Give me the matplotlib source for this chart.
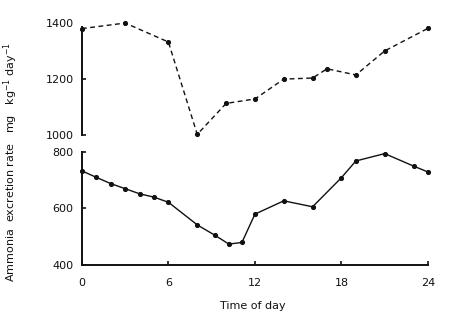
import matplotlib
matplotlib.use("Agg")
import matplotlib.pyplot as plt

# Night/day ammonia excretion, two series on a broken y axis
upper_hours = [0, 3, 6, 8, 10, 12, 14, 16, 17, 19, 21, 24]
upper_rate = [1381, 1401, 1333, 1002, 1113, 1129, 1200, 1204, 1237, 1215, 1301, 1382]

lower_hours = [0, 1, 2, 3, 4, 5, 6, 8, 9.2, 10.2, 11.1, 12, 14, 16, 18, 19, 21, 23, 24]
lower_rate = [733, 710, 688, 670, 652, 640, 622, 542, 506, 474, 480, 580, 627, 606,
              709, 768, 794, 750, 729]

x_ticks = [0, 6, 12, 18, 24]
upper_ticks = [1000, 1200, 1400]
lower_ticks = [400, 600, 800]

plt.rcParams['font.family'] = ['DejaVu Sans']

fig = plt.figure(figsize=(4.5, 3.26), dpi=100)
ax_top = fig.add_axes([0.182, 0.586, 0.769, 0.3425])
ax_bot = fig.add_axes([0.182, 0.187, 0.769, 0.347])

ink = '#111111'

ax_top.plot(upper_hours, upper_rate, color=ink, lw=1.0, linestyle=(0, (3.5, 2.5)),
            marker='o', markersize=2.7, clip_on=False)
ax_bot.plot(lower_hours, lower_rate, color=ink, lw=1.0, linestyle='-',
            marker='o', markersize=2.7, clip_on=False)

for ax in (ax_top, ax_bot):
    ax.set_xlim(0, 24)
    for s in ('top', 'right'):
        ax.spines[s].set_visible(False)
    ax.spines['left'].set_linewidth(1.4)
    ax.spines['left'].set_color(ink)
    ax.tick_params(direction='in', length=3, width=1.2, colors=ink,
                   labelsize=8, pad=6)

ax_top.set_ylim(1000, 1400)
ax_top.set_yticks(upper_ticks)
ax_top.spines['left'].set_bounds(1000, 1385)
ax_top.spines['bottom'].set_visible(False)
ax_top.set_xticks([])
ax_top.get_yaxis().get_major_ticks()[2].tick1line.set_visible(False)

ax_bot.set_ylim(400, 800)
ax_bot.set_yticks(lower_ticks)
ax_bot.set_xticks(x_ticks)
ax_bot.spines['bottom'].set_linewidth(1.4)
ax_bot.spines['bottom'].set_color(ink)
ax_bot.tick_params(axis='x', pad=9)

fig.text(0.562, 0.062, 'Time of day', ha='center', va='center',
         fontsize=8, color=ink)
fig.text(0.024, 0.503, 'Ammonia  excretion rate   mg   kg$^{-1}$ day$^{-1}$',
         rotation=90, ha='center', va='center', fontsize=8, color=ink)

fig.savefig('out.png', dpi=100)
